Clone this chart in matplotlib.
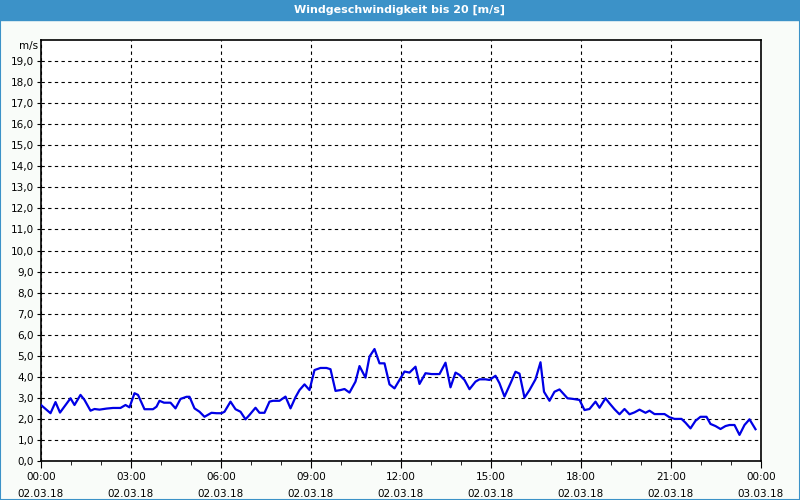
import numpy as np
import matplotlib
matplotlib.use("Agg")
import matplotlib.pyplot as plt
from matplotlib.ticker import FuncFormatter, MultipleLocator

# Zeit in Minuten ab 02.03.18 00:00, Windgeschwindigkeit in m/s
minuten = [0, 19, 29, 38, 59, 67, 79, 87, 99, 107, 117, 131, 144, 159, 169, 177,
           187, 194, 207, 224, 231, 237, 246, 259, 269, 279, 291, 297, 307, 317,
           327, 341, 351, 361, 367, 379, 389, 399, 409, 417, 429, 437, 447, 457,
           464, 477, 484, 489, 499, 509, 517, 527, 537, 547, 559, 571, 579, 589,
           599, 607, 617, 629, 637, 649, 657, 667, 677, 687, 697, 707, 715, 727,
           737, 749, 757, 769, 781, 797, 809, 819, 829, 837, 847, 857, 869, 877,
           889, 897, 909, 917, 927, 939, 949, 957, 967, 977, 989, 999, 1006, 1017,
           1027, 1037, 1053, 1064, 1077, 1087, 1097, 1109, 1117, 1129, 1137, 1147,
           1157, 1167, 1177, 1187, 1197, 1209, 1217, 1227, 1247, 1257, 1267, 1281,
           1289, 1299, 1309, 1319, 1331, 1339, 1349, 1359, 1369, 1377, 1387, 1397,
           1407, 1417, 1429]
wind = [2.66, 2.27, 2.80, 2.30, 2.98, 2.66, 3.14, 2.90, 2.39, 2.47, 2.44, 2.49,
        2.52, 2.52, 2.66, 2.55, 3.22, 3.14, 2.46, 2.46, 2.58, 2.86, 2.77, 2.77,
        2.50, 2.95, 3.05, 3.05, 2.50, 2.34, 2.10, 2.29, 2.27, 2.27, 2.34, 2.82,
        2.46, 2.34, 1.98, 2.19, 2.53, 2.29, 2.29, 2.82, 2.86, 2.86, 2.98, 3.06,
        2.50, 3.03, 3.37, 3.64, 3.37, 4.32, 4.42, 4.42, 4.36, 3.33, 3.37, 3.42,
        3.25, 3.77, 4.51, 3.96, 4.96, 5.32, 4.64, 4.64, 3.64, 3.45, 3.77, 4.25,
        4.20, 4.48, 3.66, 4.17, 4.13, 4.13, 4.67, 3.50, 4.20, 4.09, 3.85, 3.41,
        3.77, 3.88, 3.88, 3.85, 4.05, 3.69, 3.06, 3.69, 4.24, 4.15, 3.01, 3.37,
        3.88, 4.69, 3.29, 2.86, 3.29, 3.40, 2.98, 2.95, 2.90, 2.42, 2.47, 2.82,
        2.53, 2.98, 2.74, 2.46, 2.22, 2.47, 2.22, 2.31, 2.44, 2.29, 2.39, 2.23,
        2.23, 2.08, 2.00, 2.00, 1.82, 1.55, 1.91, 2.10, 2.10, 1.76, 1.66, 1.52,
        1.66, 1.71, 1.71, 1.24, 1.71, 1.98, 1.51]

x_ticks = [0, 3, 6, 9, 12, 15, 18, 21, 24]
x_labels = ["00:00\n02.03.18", "03:00\n02.03.18", "06:00\n02.03.18",
            "09:00\n02.03.18", "12:00\n02.03.18", "15:00\n02.03.18",
            "18:00\n02.03.18", "21:00\n02.03.18", "00:00\n03.03.18"]

plt.rcParams['font.family'] = ['DejaVu Sans']

fig = plt.figure(figsize=(8, 5), dpi=100)
fig.patch.set_facecolor('#f9fcf9')

# Titelleiste und Rahmen
blau = '#3c92c8'
fig.add_artist(plt.Rectangle((0, 0.96), 1, 0.04, transform=fig.transFigure,
                             color=blau, zorder=0))
fig.add_artist(plt.Rectangle((0.0006, 0.001), 0.9988, 0.998, transform=fig.transFigure,
                             fill=False, edgecolor=blau, linewidth=1.5, zorder=0))
fig.text(0.5, 0.981, "Windgeschwindigkeit bis 20 [m/s]", color='white',
         ha='center', va='center', fontsize=8, fontweight='bold')

ax = fig.add_axes([0.05125, 0.078, 0.9, 0.842])
ax.set_facecolor('white')

stunden = np.array(minuten) / 60.0
ax.plot(stunden, wind, color='#0000e6', linewidth=1.6, zorder=3)

ax.set_xlim(0, 24)
ax.set_ylim(0, 20)
ax.set_xticks(x_ticks)
ax.set_xticklabels(x_labels, fontsize=7.5, linespacing=1.9)
ax.xaxis.set_minor_locator(MultipleLocator(1))
ax.set_yticks(np.arange(0, 20, 1))
ax.yaxis.set_major_formatter(FuncFormatter(lambda v, p: f"{v:.1f}".replace('.', ',')))
ax.tick_params(axis='y', labelsize=7.5, length=3, pad=2)
ax.tick_params(axis='x', which='major', length=5, pad=3)
ax.tick_params(axis='x', which='minor', length=3)

ax.grid(True, which='major', color='black', linestyle=(0, (3, 3)), linewidth=0.8)
for s in ax.spines.values():
    s.set_linewidth(1.2)
    s.set_color('black')

ax.text(-0.004, 0.986, "m/s", transform=ax.transAxes, ha='right',
        va='center', fontsize=7.5)

fig.savefig("out.png", dpi=100, facecolor=fig.get_facecolor())
